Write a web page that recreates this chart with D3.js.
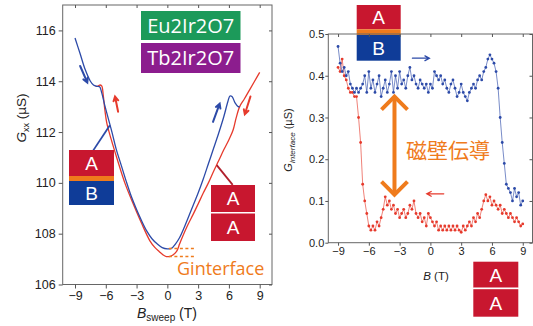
<!DOCTYPE html>
<html>
<head>
<meta charset="utf-8">
<script src="https://cdn.jsdelivr.net/npm/d3@7"></script>
<style>
  body { margin: 0; background: #fff; }
  svg { display: block; font-family: "Liberation Sans", Arial, sans-serif; }
  .axis text { fill: #222; }
  .axis line { stroke: #555; }
  .axis path { display: none; }
</style>
</head>
<body>
<script>
// left panel: G_xx vs B_sweep, two sweep directions
const upSweepB = [-9, -8.5, -8, -7.5, -7.2, -6.9, -6.6, -6.4, -6.1, -5.8, -5.4, -5, -4.5, -4, -3.5, -3, -2.5, -2, -1.5, -1, -0.5, 0,
  0.4, 0.8, 1.2, 1.6, 2, 2.5, 3, 3.5, 4, 4.5, 5, 5.5, 5.9, 6.1, 6.3, 6.6, 6.9, 7.05];
const upSweepG = [115.7, 115.08, 114.45, 114.0, 113.85, 113.8, 113.78, 113.55, 113.05, 112.6, 112.0, 111.35, 110.7, 110.05, 109.45, 108.95, 108.5, 108.1, 107.8, 107.6, 107.45, 107.4,
  107.42, 107.6, 107.85, 108.2, 108.6, 109.1, 109.6, 110.15, 110.75, 111.35, 111.95, 112.6, 113.2, 113.42, 113.4, 113.15, 113.0, 113.0];
const downSweepB = [9, 8.5, 8, 7.5, 7.05, 6.7, 6.4, 6, 5.5, 5, 4.5, 4, 3.5, 3, 2.5, 2, 1.5, 1.2, 0.9, 0.5, 0.2, -0.1, -0.4, -0.8, -1.2, -1.7,
  -2.5, -3.3, -4.1, -4.9, -5.5, -5.9, -6.1, -6.25, -6.4, -6.6, -6.8, -7.0];
const downSweepG = [114.35, 114.0, 113.65, 113.3, 113.0, 112.55, 112.07, 111.7, 111.3, 110.87, 110.45, 110.0, 109.6, 109.17, 108.75, 108.35, 107.9, 107.6, 107.3, 107.15, 107.1, 107.1, 107.16, 107.3, 107.45, 107.72,
  108.4, 109.15, 109.95, 110.95, 111.75, 112.35, 112.9, 113.45, 113.82, 113.85, 113.8, 113.8];
const leftYTicks = [106, 108, 110, 112, 114, 116];
const fieldTicks = [-9, -6, -3, 0, 3, 6, 9];

// right panel: G_interface vs B
const fieldB = [-9, -8.8, -8.6, -8.4, -8.2, -8, -7.8, -7.6, -7.4, -7.2, -7, -6.8, -6.6, -6.4, -6.2, -6, -5.8, -5.6, -5.4, -5.2,
  -5, -4.8, -4.6, -4.4, -4.2, -4, -3.8, -3.6, -3.4, -3.2, -3, -2.8, -2.6, -2.4, -2.2, -2, -1.8, -1.6, -1.4, -1.2,
  -1, -0.8, -0.6, -0.4, -0.2, 0, 0.2, 0.4, 0.6, 0.8, 1, 1.2, 1.4, 1.6, 1.8, 2, 2.2, 2.4, 2.6, 2.8,
  3, 3.2, 3.4, 3.6, 3.8, 4, 4.2, 4.4, 4.6, 4.8, 5, 5.2, 5.4, 5.6, 5.8, 6, 6.2, 6.4, 6.6, 6.8,
  7, 7.2, 7.4, 7.6, 7.8, 8, 8.2, 8.4, 8.6, 8.8, 9];
const upInterfaceG = [0.47, 0.43, 0.41, 0.42, 0.40, 0.41, 0.38, 0.37, 0.36, 0.37,
  0.36, 0.37, 0.38, 0.40, 0.36, 0.41, 0.37, 0.39, 0.36, 0.38,
  0.40, 0.35, 0.37, 0.39, 0.36, 0.38, 0.41, 0.36, 0.40, 0.37,
  0.41, 0.38, 0.39, 0.37, 0.40, 0.42, 0.39, 0.40, 0.38, 0.37,
  0.39, 0.38, 0.37, 0.38, 0.36, 0.38, 0.37, 0.41, 0.40, 0.39,
  0.40, 0.38, 0.39, 0.37, 0.36, 0.38, 0.39, 0.37, 0.35, 0.36,
  0.38, 0.36, 0.35, 0.34, 0.36, 0.37, 0.38, 0.37, 0.39, 0.40,
  0.39, 0.41, 0.42, 0.44, 0.45, 0.44, 0.43, 0.41, 0.37, 0.30,
  0.24, 0.19, 0.14, 0.13, 0.12, 0.10, 0.13, 0.11, 0.12, 0.09,
  0.10];
const downInterfaceG = [0.42, 0.41, 0.44, 0.40, 0.39, 0.37, 0.36, 0.36, 0.35, 0.35,
  0.30, 0.24, 0.14, 0.10, 0.07, 0.04, 0.03, 0.04, 0.03, 0.05,
  0.04, 0.06, 0.08, 0.11, 0.09, 0.10, 0.08, 0.09, 0.07, 0.08,
  0.06, 0.07, 0.08, 0.06, 0.07, 0.09, 0.08, 0.10, 0.07, 0.06,
  0.07, 0.05, 0.06, 0.04, 0.07, 0.06, 0.05, 0.04, 0.05, 0.03,
  0.04, 0.03, 0.04, 0.03, 0.04, 0.03, 0.04, 0.03, 0.04, 0.03,
  0.025, 0.04, 0.03, 0.04, 0.05, 0.04, 0.06, 0.05, 0.07, 0.06,
  0.08, 0.10, 0.115, 0.10, 0.11, 0.09, 0.10, 0.09, 0.08, 0.09,
  0.07, 0.08, 0.07, 0.06, 0.07, 0.06, 0.05, 0.06, 0.05, 0.04,
  0.045];
const rightYTicks = [0, 0.1, 0.2, 0.3, 0.4, 0.5];

const blue = "#2c4aa8", red = "#e63a2c", orange = "#ef7b1c";
const boxRed = "#c8172f", boxBlue = "#0f3c98";

const svg = d3.select("body").append("svg").attr("width", 533).attr("height", 326);

// ---------- left panel ----------
const xL = d3.scaleLinear().domain([-10.2, 10.2]).range([62.7, 272]);
const yL = d3.scaleLinear().domain([106, 117]).range([284.5, 5]);

const left = svg.append("g");
left.append("rect").attr("x", xL.range()[0]).attr("y", yL.range()[1])
  .attr("width", xL.range()[1] - xL.range()[0]).attr("height", yL.range()[0] - yL.range()[1])
  .attr("fill", "none").attr("stroke", "#666");

left.append("g").attr("class", "axis").attr("transform", `translate(0,${yL.range()[0]})`)
  .call(d3.axisBottom(xL).tickValues(fieldTicks).tickSize(4).tickPadding(3))
  .selectAll("text").attr("font-size", 12.5);
left.append("g").attr("class", "axis").attr("transform", `translate(0,${yL.range()[1]})`)
  .call(d3.axisTop(xL).tickValues(fieldTicks).tickSize(-3).tickFormat(""));
left.append("g").attr("class", "axis").attr("transform", `translate(${xL.range()[0]},0)`)
  .call(d3.axisLeft(yL).tickValues(leftYTicks).tickSize(4).tickPadding(3))
  .selectAll("text").attr("font-size", 12.5);
left.append("g").attr("class", "axis").attr("transform", `translate(${xL.range()[1]},0)`)
  .call(d3.axisRight(yL).tickValues(leftYTicks).tickSize(-3).tickFormat(""));

const lineLc = d3.line().x(d => xL(d[0])).y(d => yL(d[1])).curve(d3.curveCatmullRom);
left.append("path").datum(d3.zip(downSweepB, downSweepG)).attr("d", lineLc)
  .attr("fill", "none").attr("stroke", red).attr("stroke-width", 1.3);
left.append("path").datum(d3.zip(upSweepB, upSweepG)).attr("d", lineLc)
  .attr("fill", "none").attr("stroke", blue).attr("stroke-width", 1.3);

// dotted guides marking the interface conductance
[107.42, 107.1].forEach(g => {
  left.append("line").attr("x1", xL(0.15)).attr("x2", xL(2.6)).attr("y1", yL(g)).attr("y2", yL(g))
    .attr("stroke", orange).attr("stroke-width", 1.5).attr("stroke-dasharray", "3,2.5");
});
left.append("text").attr("x", 177).attr("y", 275).attr("fill", orange)
  .attr("font-size", 18).attr("font-family", "Open Sans, sans-serif").text("Ginterface");

// sweep direction arrows
function arrow(g, x, y, x1, y1, x2, y2, color, w, head) {
  const p0 = [x(x1), y(y1)], p1 = [x(x2), y(y2)];
  const a = Math.atan2(p1[1] - p0[1], p1[0] - p0[0]);
  const h = head || 5;
  g.append("path")
    .attr("d", `M${p0}L${p1}M${p1[0] - h * Math.cos(a - 0.5)},${p1[1] - h * Math.sin(a - 0.5)}L${p1}L${p1[0] - h * Math.cos(a + 0.5)},${p1[1] - h * Math.sin(a + 0.5)}`)
    .attr("fill", "none").attr("stroke", color).attr("stroke-width", w).attr("stroke-linecap", "round");
}
arrow(left, xL, yL, -8.5, 114.6, -7.8, 113.95, blue, 2);
arrow(left, xL, yL, -4.8, 112.8, -5.1, 113.4, red, 2);
arrow(left, xL, yL, 4.45, 112.4, 5.1, 113.12, blue, 2);
arrow(left, xL, yL, 8.1, 113.4, 7.55, 112.7, red, 2);

// leader lines to the domain sketches
left.append("line").attr("x1", xL(-7.35)).attr("y1", yL(111.2)).attr("x2", xL(-5.6)).attr("y2", yL(112.27))
  .attr("stroke", blue).attr("stroke-width", 1.8);
left.append("line").attr("x1", xL(6.37)).attr("y1", yL(109.92)).attr("x2", xL(4.81)).attr("y2", yL(110.7))
  .attr("stroke", "#b01f2c").attr("stroke-width", 1.8);

function labelBox(g, x, y, w, h, fill, txt, size) {
  g.append("rect").attr("x", x).attr("y", y).attr("width", w).attr("height", h).attr("fill", fill);
  g.append("text").attr("x", x + w / 2).attr("y", y + h / 2).attr("dy", "0.36em")
    .attr("text-anchor", "middle").attr("fill", "#fff").attr("font-size", size).text(txt);
}
function stack(g, x, y, w, parts) {
  let yy = y;
  parts.forEach(p => {
    if (p.txt) labelBox(g, x, yy, w, p.h, p.fill, p.txt, p.size || 19);
    else g.append("rect").attr("x", x).attr("y", yy).attr("width", w).attr("height", p.h).attr("fill", p.fill);
    yy += p.h;
  });
}

const mat = svg.append("g").attr("font-family", "Open Sans, Liberation Sans, sans-serif");
labelBox(mat, 141, 11, 99.5, 29, "#1c9a5a", "Eu2Ir2O7", 20);
labelBox(mat, 141, 43, 99.5, 30, "#8c1d8e", "Tb2Ir2O7", 20);

const boxes = svg.append("g").attr("font-family", "Liberation Sans, Arial, sans-serif");
stack(boxes, 69, 150, 45, [{h: 26, fill: boxRed, txt: "A"}, {h: 5, fill: orange}, {h: 24, fill: boxBlue, txt: "B"}]);
stack(boxes, 211, 185, 44, [{h: 27, fill: boxRed, txt: "A"}, {h: 1.5, fill: "#fff"}, {h: 27.5, fill: boxRed, txt: "A"}]);

// left axis titles
const lyt = svg.append("text").attr("transform", "translate(26,118) rotate(-90)")
  .attr("text-anchor", "middle").attr("font-size", 13.5).attr("fill", "#222");
lyt.append("tspan").attr("font-style", "italic").text("G");
lyt.append("tspan").attr("font-size", 9).attr("dy", 3).text("xx");
lyt.append("tspan").attr("dy", -3).text(" (\u00b5S)");
const lxt = svg.append("text").attr("x", 167).attr("y", 318).attr("text-anchor", "middle")
  .attr("font-size", 14).attr("fill", "#222");
lxt.append("tspan").attr("font-style", "italic").text("B");
lxt.append("tspan").attr("font-size", 10).attr("dy", 3).text("sweep");
lxt.append("tspan").attr("dy", -3).text(" (T)");

// ---------- right panel ----------
const xR = d3.scaleLinear().domain([-9.95, 9.95]).range([328.3, 532.5]);
const yR = d3.scaleLinear().domain([0, 0.5]).range([242.7, 34]);

const right = svg.append("g");
right.append("rect").attr("x", xR.range()[0]).attr("y", yR.range()[1])
  .attr("width", xR.range()[1] - xR.range()[0]).attr("height", yR.range()[0] - yR.range()[1])
  .attr("fill", "none").attr("stroke", "#666");
right.append("g").attr("class", "axis").attr("transform", `translate(0,${yR.range()[0]})`)
  .call(d3.axisBottom(xR).tickValues(fieldTicks).tickSize(3).tickPadding(2))
  .selectAll("text").attr("font-size", 11);
right.append("g").attr("class", "axis").attr("transform", `translate(0,${yR.range()[1]})`)
  .call(d3.axisTop(xR).tickValues(fieldTicks).tickSize(-3).tickFormat(""));
right.append("g").attr("class", "axis").attr("transform", `translate(${xR.range()[0]},0)`)
  .call(d3.axisLeft(yR).tickValues(rightYTicks).tickSize(3).tickPadding(1).tickFormat(d3.format(".1f")))
  .selectAll("text").attr("font-size", 11);
right.append("g").attr("class", "axis").attr("transform", `translate(${xR.range()[1]},0)`)
  .call(d3.axisRight(yR).tickValues(rightYTicks).tickSize(-3).tickFormat(""));

const lineR = d3.line().x(d => xR(d[0])).y(d => yR(d[1]));
[[downInterfaceG, red], [upInterfaceG, blue]].forEach(([vals, c]) => {
  const pts = d3.zip(fieldB, vals);
  right.append("path").datum(pts).attr("d", lineR).attr("fill", "none")
    .attr("stroke", c).attr("stroke-width", 0.8).attr("opacity", 0.8);
  right.append("g").selectAll("circle").data(pts).join("circle")
    .attr("cx", d => xR(d[0])).attr("cy", d => yR(d[1])).attr("r", 1.4).attr("fill", c);
});

arrow(right, xR, yR, -1.75, 0.442, -0.1, 0.442, blue, 1.3, 5);
arrow(right, xR, yR, 1.3, 0.117, -0.35, 0.117, red, 1.3, 5);

// double arrow for domain-wall conduction
const dax = xR(-3.5), day0 = yR(0.35), day1 = yR(0.115);
right.append("line").attr("x1", dax).attr("x2", dax).attr("y1", day0 + 2).attr("y2", day1 - 2)
  .attr("stroke", orange).attr("stroke-width", 4);
right.append("path").attr("d", `M${dax - 13},${day0 + 13}L${dax},${day0}L${dax + 13},${day0 + 13}`)
  .attr("fill", "none").attr("stroke", orange).attr("stroke-width", 4);
right.append("path").attr("d", `M${dax - 13},${day1 - 13}L${dax},${day1}L${dax + 13},${day1 - 13}`)
  .attr("fill", "none").attr("stroke", orange).attr("stroke-width", 4);
right.append("text").attr("x", 406).attr("y", 150).attr("dy", "0.36em")
  .attr("font-family", "Noto Sans CJK JP, sans-serif").attr("font-size", 21).attr("fill", orange)
  .text("磁壁伝導");

stack(boxes, 356.7, 5, 44, [{h: 24.3, fill: boxRed, txt: "A"}, {h: 5.7, fill: orange}, {h: 25.7, fill: boxBlue, txt: "B"}]);
stack(boxes, 473.3, 261.7, 45, [{h: 26, fill: boxRed, txt: "A"}, {h: 1.5, fill: "#fff"}, {h: 27.5, fill: boxRed, txt: "A"}]);

const ryt = svg.append("text").attr("transform", "translate(292,140) rotate(-90)")
  .attr("text-anchor", "middle").attr("font-size", 11).attr("fill", "#222");
ryt.append("tspan").attr("font-style", "italic").text("G");
ryt.append("tspan").attr("font-size", 8).attr("dy", 2.5).attr("font-style", "italic").text("interface");
ryt.append("tspan").attr("dy", -2.5).text(" (\u00b5S)");
const rxt = svg.append("text").attr("x", 436).attr("y", 280).attr("text-anchor", "middle")
  .attr("font-size", 11.5).attr("fill", "#222");
rxt.append("tspan").attr("font-style", "italic").text("B");
rxt.append("tspan").text(" (T)");
</script>
</body>
</html>
